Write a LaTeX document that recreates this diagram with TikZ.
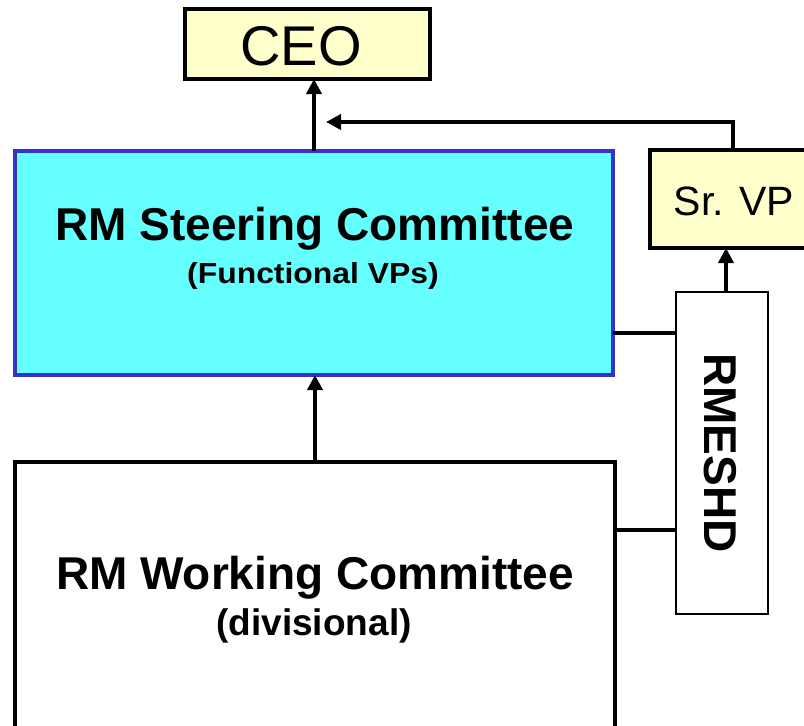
\documentclass[tikz,border=0pt]{standalone}
\usepackage{fontspec}
\setmainfont{Liberation Sans}
\usetikzlibrary{arrows.meta}
\definecolor{boxyellow}{HTML}{FFFFCC}
\definecolor{steercyan}{HTML}{66FFFF}
\definecolor{steerblue}{HTML}{3333CC}
\tikzset{
  box/.style={draw=black, line width=4pt, rectangle, inner sep=0pt, outer sep=0pt},
  thinbox/.style={draw=black, line width=2pt, rectangle, fill=white, inner sep=0pt, outer sep=0pt},
  arr/.style={line width=4pt, -{Triangle[width=15pt,length=15pt]}},
  link/.style={line width=3.5pt},
  lbl/.style={inner sep=0pt, anchor=base},
}
\begin{document}
\begin{tikzpicture}[x=1pt,y=-1pt]
\useasboundingbox (0,0) rectangle (804,726);
\fill[white] (0,0) rectangle (804,726);
% boxes
\node[box, fill=boxyellow, minimum width=245pt, minimum height=70pt] (ceo) at (307.5,44) {};
\node[box, draw=steerblue, fill=steercyan, minimum width=598pt, minimum height=224pt] (steer) at (314,263) {};
\node[box, fill=white, minimum width=600pt, minimum height=268pt] (work) at (315,596) {};
\node[box, fill=boxyellow, minimum width=160pt, minimum height=98pt] (srvp) at (730,199) {};
\node[thinbox, minimum width=92pt, minimum height=322pt] (rmeshd) at (722,453) {};
% texts
\node[lbl, font=\fontsize{56}{60}\selectfont] (ceoT) at (301,65) {CEO};
\node[lbl, font=\fontsize{41}{45}\selectfont] (srvpT) at (734,215) {Sr. VP};
\node[lbl, font=\fontsize{46}{50}\selectfont\bfseries] (steerT) at (315,240) {RM Steering Committee};
\node[lbl, font=\fontsize{29}{32}\selectfont\bfseries, xscale=1.1] (steerS) at (313,283) {(Functional VPs)};
\node[lbl, font=\fontsize{46}{50}\selectfont\bfseries] (workT) at (315,589) {RM Working Committee};
\node[lbl, font=\fontsize{37}{40}\selectfont\bfseries] (workS) at (314,635) {(divisional)};
\node[lbl, font=\fontsize{46}{50}\selectfont\bfseries, rotate=-90] (rmT) at (704,453) {RMESHD};
% connectors
\coordinate (vpEnd) at (326,122);
\coordinate (upperY) at (0,333);
\coordinate (lowerY) at (0,530);
\draw[arr] (steer.north) -- (steer.north |- ceo.south);
\draw[arr] (work.north) -- (work.north |- steer.south);
\draw[arr] ([xshift=3pt]srvp.north) |- (vpEnd);
\draw[arr] ([xshift=4pt]rmeshd.north) -- ([xshift=4pt]rmeshd.north |- srvp.south);
\draw[link] (steer.east |- upperY) -- (rmeshd.west |- upperY);
\draw[link] (work.east |- lowerY) -- (rmeshd.west |- lowerY);
\end{tikzpicture}
\end{document}
